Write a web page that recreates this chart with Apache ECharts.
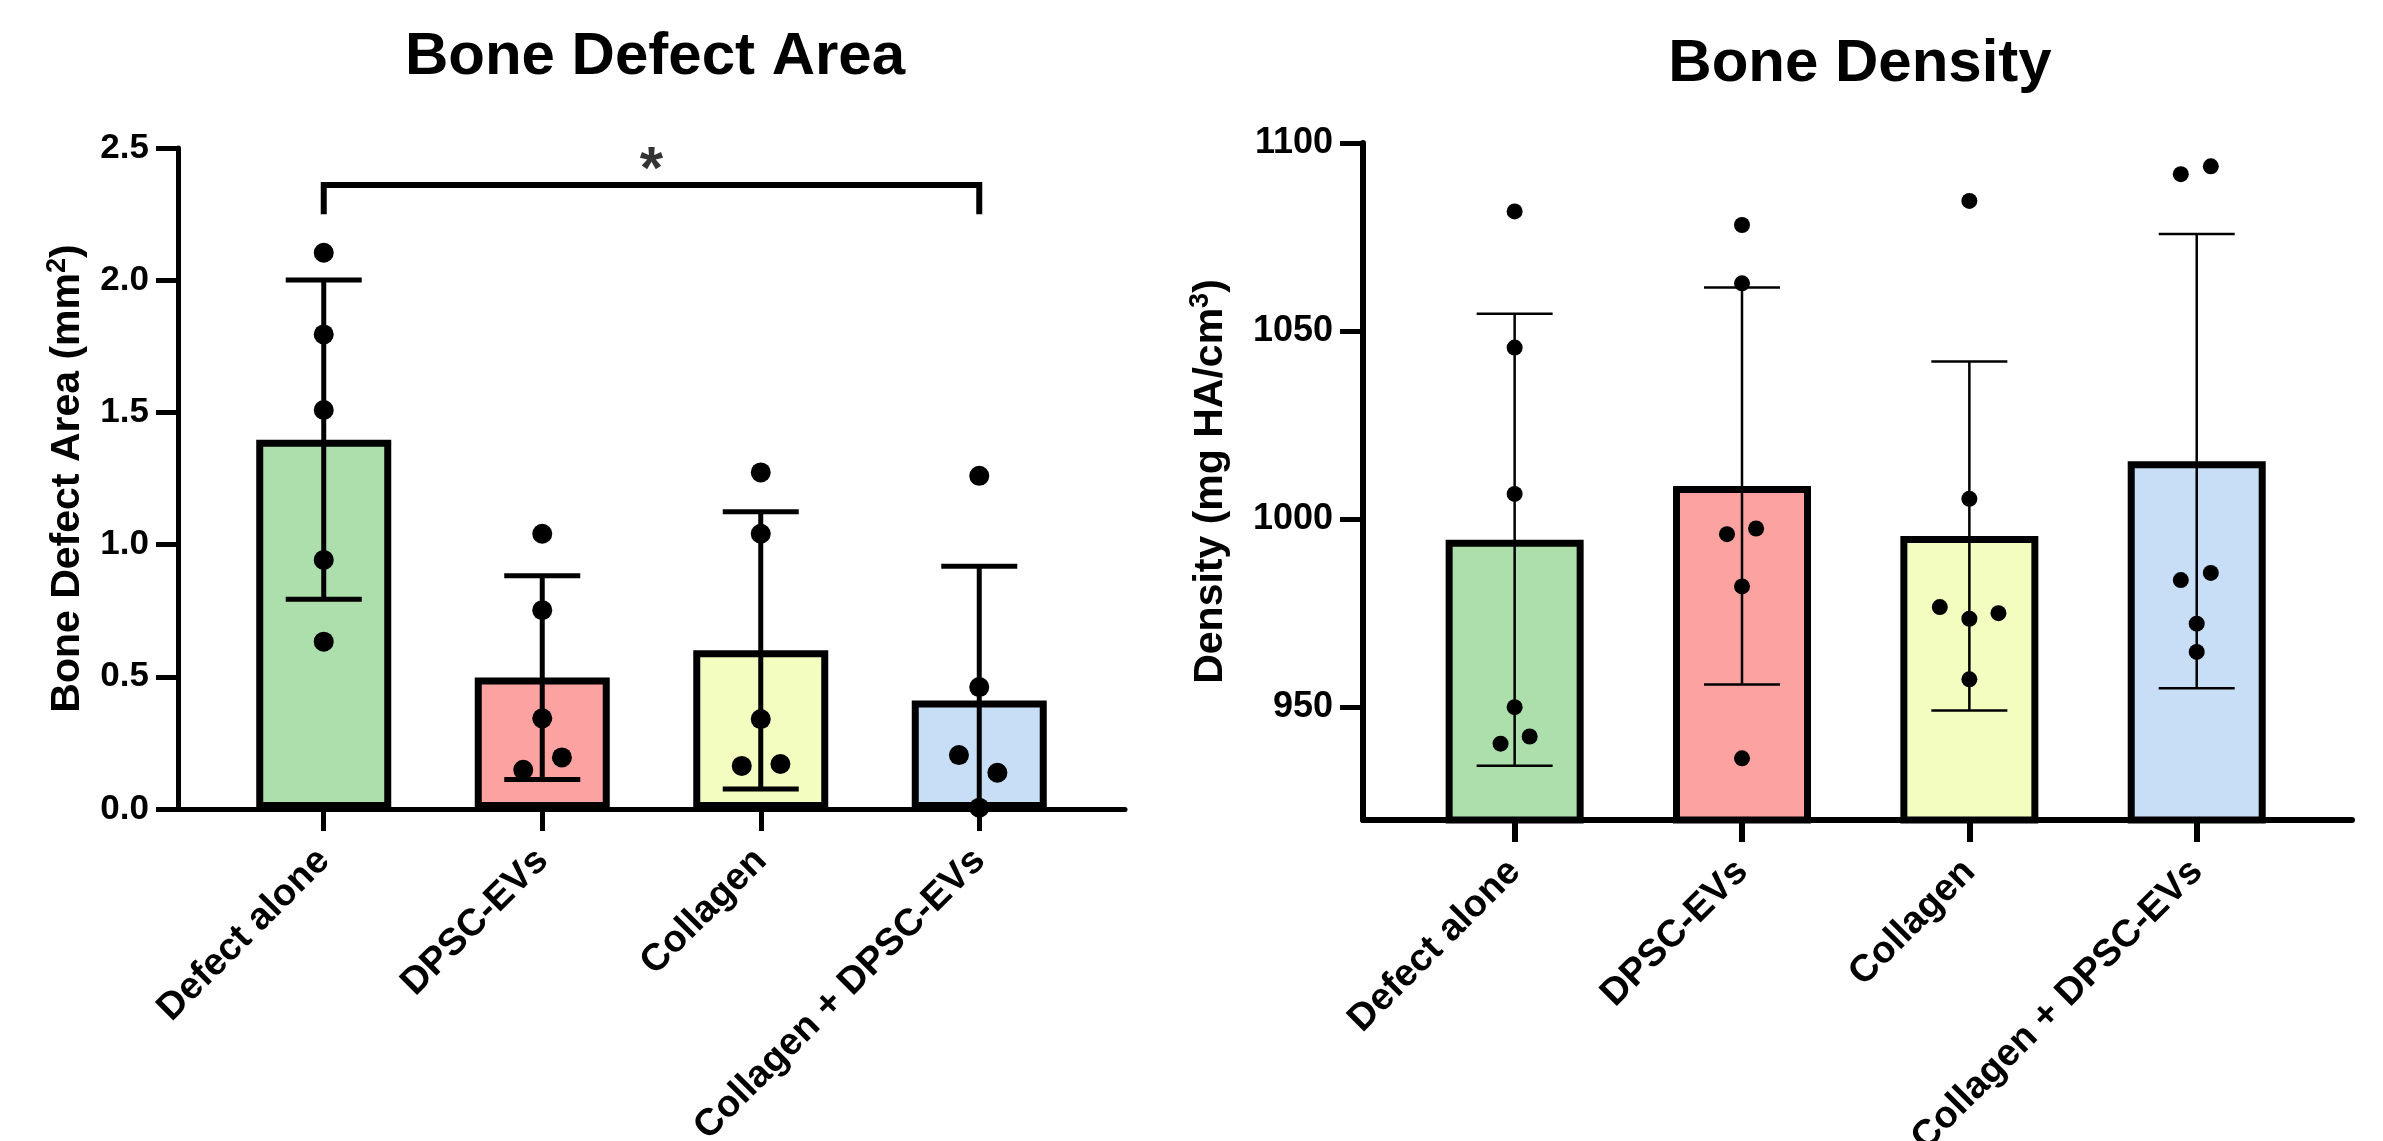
<!DOCTYPE html>
<html>
<head>
<meta charset="utf-8">
<script src="https://cdn.jsdelivr.net/npm/echarts@6/dist/echarts.min.js"></script>
<style>
html,body{margin:0;padding:0;background:#fff;}
#chart{width:2383px;height:1141px;}
</style>
</head>
<body>
<div id="chart"></div>
<script>
// ---------- data ----------
const categories = ['Defect alone', 'DPSC-EVs', 'Collagen', 'Collagen + DPSC-EVs'];
const barColors = ['#ADDFAC', '#FCA2A0', '#F2FDBF', '#C8DEF7'];

// Bone Defect Area (mm^2)
const areaMeans = [1.397, 0.497, 0.600, 0.410];
const areaSD = [0.604, 0.385, 0.524, 0.508];
const areaPoints = [
  [2.104, 1.795, 1.509, 0.942, 0.633],
  [1.041, 0.752, 0.343, 0.195, 0.148],
  [1.273, 1.041, 0.340, 0.170, 0.163],
  [1.260, 0.461, 0.204, 0.137, 0.005]
];
const areaJitter = [
  [0, 0, 0, 0, 0],
  [0, 0, 0, 0.09, -0.087],
  [0, 0, 0, 0.09, -0.087],
  [0, 0, -0.093, 0.083, 0]
];
const areaTicks = [0, 0.5, 1.0, 1.5, 2.0, 2.5];
const bracketGroups = [0, 3];
const bracketLevels = [2.261, 2.36];
const bracketText = '*';

// Bone Density (mg HA/cm^3)
const densityMeans = [994.5, 1008.8, 995.5, 1015.4];
const densitySD = [60.1, 52.8, 46.4, 60.4];
const densityPoints = [
  [1081.8, 1045.6, 1006.7, 950.0, 942.2, 940.3],
  [1078.2, 1062.7, 997.5, 996.0, 982.1, 936.4],
  [1084.6, 1005.4, 976.6, 973.5, 975.0, 957.4],
  [1091.7, 1093.8, 985.7, 983.8, 972.2, 964.7]
];
const densityJitter = [
  [0, 0, 0, 0, 0.066, -0.062],
  [0, 0, 0.062, -0.066, 0, 0],
  [0, 0, -0.13, 0, 0.128, 0],
  [-0.07, 0.062, 0.062, -0.07, 0, 0]
];
const densityTicks = [950, 1000, 1050, 1100];
const densityRange = [920, 1100];

// ---------- chart ----------
const FONT = "'Liberation Sans', Arial, Helvetica, sans-serif";
const catIdx = categories.map((c, i) => i);

function barSeries(g, means) {
  return {
    type: 'bar', xAxisIndex: g, yAxisIndex: g, z: 2, silent: true,
    barWidth: g === 0 ? 135 : 138,
    data: means.map((m, i) => ({
      value: [i, m],
      itemStyle: { color: barColors[i], borderColor: '#000', borderWidth: 7 }
    }))
  };
}

function errorSeries(g, means, sds, yMin, lw, capHalf) {
  return {
    type: 'custom', xAxisIndex: g, yAxisIndex: g, z: 3, silent: true,
    data: means.map((m, i) => [i, m, sds[i]]),
    renderItem: function (params, api) {
      const x = api.value(0), m = api.value(1), s = api.value(2);
      const hi = api.coord([x, m + s]);
      const lowV = m - s;
      const lo = api.coord([x, Math.max(lowV, yMin)]);
      const style = { stroke: '#000', lineWidth: lw, fill: null };
      const children = [
        { type: 'line', shape: { x1: hi[0], y1: hi[1], x2: lo[0], y2: lo[1] }, style: style },
        { type: 'line', shape: { x1: hi[0] - capHalf, y1: hi[1], x2: hi[0] + capHalf, y2: hi[1] }, style: style }
      ];
      if (lowV >= yMin) {
        children.push({ type: 'line', shape: { x1: lo[0] - capHalf, y1: lo[1], x2: lo[0] + capHalf, y2: lo[1] }, style: style });
      }
      return { type: 'group', children: children };
    }
  };
}

function dotSeries(g, pts, jit, size) {
  const data = [];
  pts.forEach((arr, i) => arr.forEach((v, k) => data.push([i + jit[i][k], v])));
  return {
    type: 'scatter', xAxisIndex: g, yAxisIndex: g, z: 4, silent: true,
    symbol: 'circle', symbolSize: size,
    itemStyle: { color: '#000', opacity: 1 },
    data: data
  };
}

function xAxisCfg(g, min, max, lw) {
  return {
    type: 'value', gridIndex: g, min: min, max: max,
    splitLine: { show: false },
    axisLine: { show: true, onZero: false, lineStyle: { color: '#000', width: lw, cap: 'round' } },
    axisTick: { show: true, customValues: catIdx, length: 22, lineStyle: { color: '#000', width: lw } },
    axisLabel: {
      show: true, customValues: catIdx, rotate: 45, margin: 46,
      formatter: v => categories[Math.round(v)],
      fontSize: 38, fontWeight: 'bold', color: '#000', fontFamily: FONT
    }
  };
}

const option = {
  backgroundColor: '#fff',
  animation: false,
  title: [
    { text: 'Bone Defect Area', left: 650, top: 22, textAlign: 'center',
      textStyle: { fontSize: 60, fontWeight: 'bold', color: '#000', fontFamily: FONT } },
    { text: 'Bone Density', left: 1855, top: 29, textAlign: 'center',
      textStyle: { fontSize: 60, fontWeight: 'bold', color: '#000', fontFamily: FONT } }
  ],
  grid: [
    { left: 178, top: 148, width: 947, height: 661, outerBoundsMode: 'none', containLabel: false },
    { left: 1363, top: 143, width: 989, height: 677, outerBoundsMode: 'none', containLabel: false }
  ],
  xAxis: [
    xAxisCfg(0, -0.667, 3.667, 5),
    xAxisCfg(1, -0.667, 3.683, 6)
  ],
  yAxis: [
    {
      type: 'value', gridIndex: 0, min: areaTicks[0], max: areaTicks[areaTicks.length - 1], interval: 0.5,
      splitLine: { show: false },
      axisLine: { show: true, onZero: false, lineStyle: { color: '#000', width: 5, cap: 'round' } },
      axisTick: { show: true, length: 22, lineStyle: { color: '#000', width: 5 } },
      axisLabel: { margin: 29, formatter: v => v.toFixed(1), fontSize: 35, fontWeight: 'bold', color: '#000', fontFamily: FONT },
      name: '{n|Bone Defect Area (mm}{s|2}{n|)}',
      nameLocation: 'middle', nameRotate: 90, nameGap: 86,
      nameTextStyle: {
        fontFamily: FONT, color: '#000',
        rich: {
          n: { fontSize: 41, fontWeight: 'bold', fontFamily: FONT, color: '#000', lineHeight: 48 },
          s: { fontSize: 27, fontWeight: 'bold', fontFamily: FONT, color: '#000', verticalAlign: 'top', lineHeight: 48 }
        }
      }
    },
    {
      type: 'value', gridIndex: 1, min: densityRange[0], max: densityRange[1],
      splitLine: { show: false },
      axisLine: { show: true, onZero: false, lineStyle: { color: '#000', width: 6, cap: 'round' } },
      axisTick: { show: true, customValues: densityTicks, length: 23, lineStyle: { color: '#000', width: 5 } },
      axisLabel: { customValues: densityTicks, margin: 30, formatter: v => String(v), fontSize: 36, fontWeight: 'bold', color: '#000', fontFamily: FONT },
      name: '{n|Density (mg HA/cm}{s|3}{n|)}',
      nameLocation: 'middle', nameRotate: 90, nameGap: 128,
      nameTextStyle: {
        fontFamily: FONT, color: '#000',
        rich: {
          n: { fontSize: 41, fontWeight: 'bold', fontFamily: FONT, color: '#000', lineHeight: 48 },
          s: { fontSize: 27, fontWeight: 'bold', fontFamily: FONT, color: '#000', verticalAlign: 'top', lineHeight: 48 }
        }
      }
    }
  ],
  series: [
    barSeries(0, areaMeans),
    errorSeries(0, areaMeans, areaSD, areaTicks[0], 5, 38),
    dotSeries(0, areaPoints, areaJitter, 20),
    {
      type: 'line', xAxisIndex: 0, yAxisIndex: 0, z: 5, silent: true,
      symbol: 'none', lineStyle: { color: '#000', width: 6, cap: 'square', join: 'miter' },
      data: [
        [bracketGroups[0], bracketLevels[0]],
        [bracketGroups[0], bracketLevels[1]],
        [bracketGroups[1], bracketLevels[1]],
        [bracketGroups[1], bracketLevels[0]]
      ]
    },
    {
      type: 'scatter', xAxisIndex: 0, yAxisIndex: 0, z: 5, silent: true,
      symbolSize: 0.01, itemStyle: { color: '#000' },
      data: [[(bracketGroups[0] + bracketGroups[1]) / 2, bracketLevels[1]]],
      label: {
        show: true, position: 'inside', offset: [0, -14], formatter: bracketText,
        fontSize: 60, fontWeight: 'bold', color: '#000', fontFamily: FONT
      }
    },
    barSeries(1, densityMeans),
    errorSeries(1, densityMeans, densitySD, densityRange[0], 2.5, 38),
    dotSeries(1, densityPoints, densityJitter, 16)
  ]
};

const chart = echarts.init(document.getElementById('chart'), null, { renderer: 'canvas' });
chart.setOption(option);
</script>
</body>
</html>
